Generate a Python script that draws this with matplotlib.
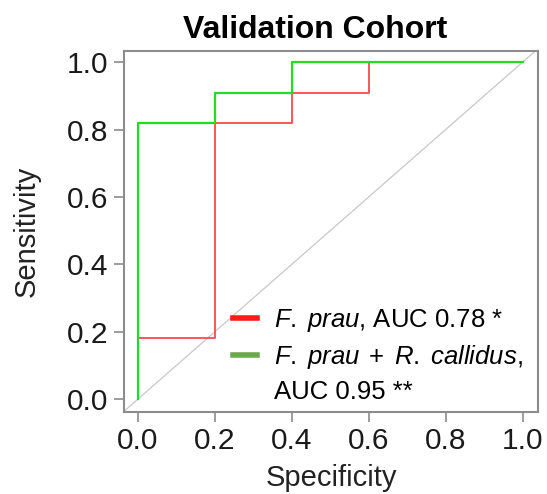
import numpy as np
import matplotlib
matplotlib.use('Agg')
import matplotlib.pyplot as plt
from matplotlib.lines import Line2D

plt.rcParams['font.family'] = 'Liberation Sans'
plt.rcParams['mathtext.fontset'] = 'custom'
plt.rcParams['mathtext.it'] = 'Liberation Sans:italic'
plt.rcParams['mathtext.rm'] = 'Liberation Sans'

# step coordinates of the two curves (x = "Specificity" as labelled, y = Sensitivity)
fprau_x = [0.0, 0.0, 0.2, 0.2, 0.4, 0.4, 0.6, 0.6, 1.0]
fprau_y = [0.0, 2/11, 2/11, 9/11, 9/11, 10/11, 10/11, 1.0, 1.0]
combo_x = [0.0, 0.0, 0.2, 0.2, 0.4, 0.4, 1.0]
combo_y = [0.0, 9/11, 9/11, 10/11, 10/11, 1.0, 1.0]
ticks = [0.0, 0.2, 0.4, 0.6, 0.8, 1.0]
tick_labels = ['0.0', '0.2', '0.4', '0.6', '0.8', '1.0']

fig = plt.figure(figsize=(5.47, 4.94), dpi=100)
ax = fig.add_axes([124/547, 1 - 412/494, (538-124)/547, (412-51)/494])

ax.set_xlim(-0.036, 1.04)
ax.set_ylim(-0.038, 1.033)
ax.plot([-0.1, 1.1], [-0.1, 1.1], color='#c8c8c8', lw=0.9, zorder=1)
ax.plot(fprau_x, fprau_y, color='#ff4a4a', lw=1.3, zorder=2)
ax.plot(combo_x, combo_y, color='#22dd22', lw=1.6, zorder=3)

for s in ax.spines.values():
    s.set_color('#8c8c8c')
    s.set_linewidth(1.5)
ax.set_xticks(ticks)
ax.set_xticklabels(tick_labels)
ax.set_yticks(ticks)
ax.set_yticklabels(tick_labels)
ax.tick_params(direction='out', length=7, width=1.2, color='#8c8c8c',
               labelsize=21.5, labelcolor='#1a1a1a', pad=4)

ax.set_title('Validation Cohort', fontsize=23, fontweight='bold', pad=9, x=0.461)
ax.set_xlabel('Specificity', fontsize=21, color='#222222', labelpad=6)
ax.set_ylabel('Sensitivity', fontsize=21, color='#222222', labelpad=19)

# legend: third row continues the second label, so it gets an empty handle
handles = [Line2D([], [], color='#ff1a1a', lw=4),
           Line2D([], [], color='#6aaa4a', lw=4),
           Line2D([], [], color='none', lw=0)]
labels = [r'$\it{F.\;prau}$, AUC 0.78 *',
          r'$\it{F.\;prau\;+\;R.\;callidus}$,',
          'AUC 0.95 **']
leg = ax.legend(handles, labels, loc='upper left', bbox_to_anchor=(0.263, 0.29),
                frameon=False, fontsize=18.5, handlelength=0.95, handletextpad=0.65,
                labelspacing=0.35, borderpad=0, borderaxespad=0)

fig.savefig('out.png', dpi=100)
